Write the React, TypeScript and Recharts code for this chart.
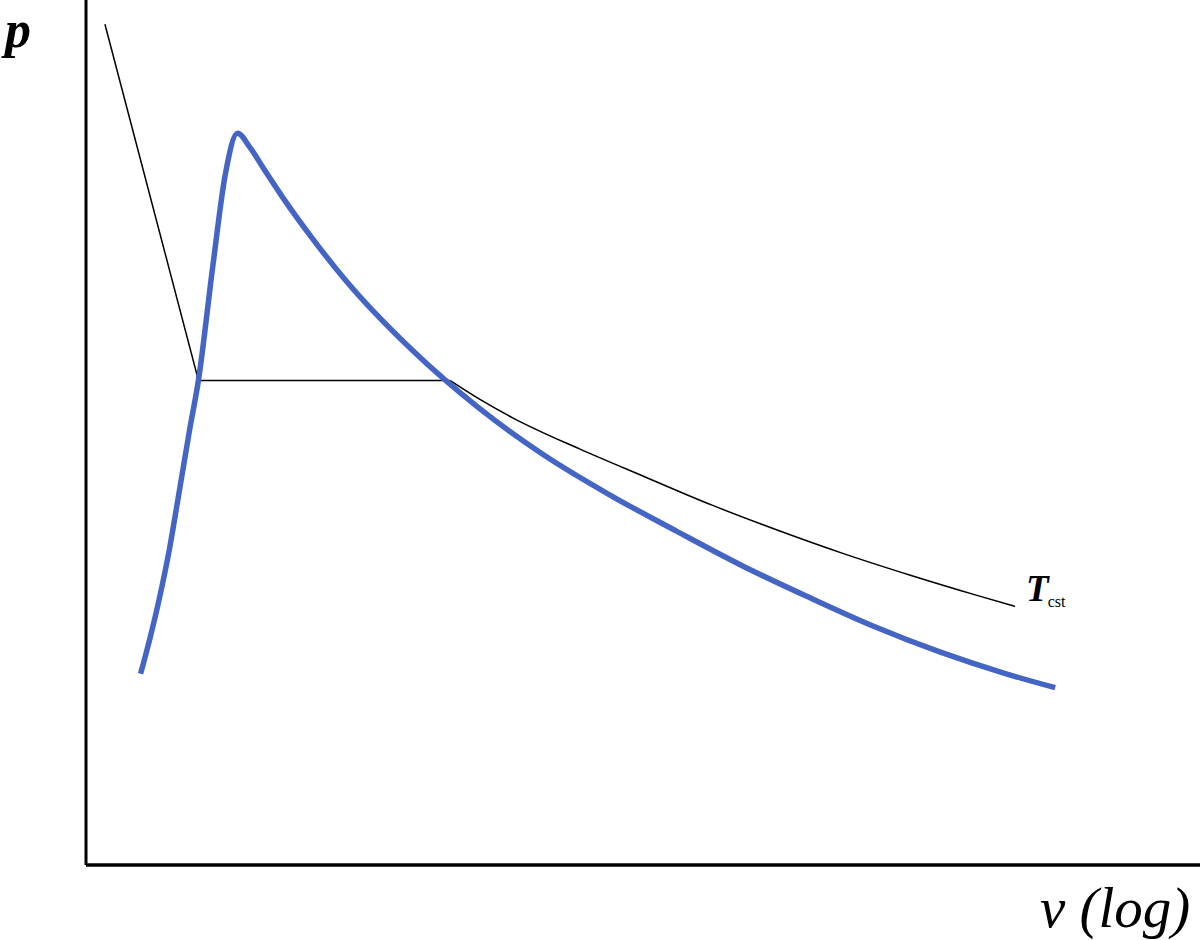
import { LineChart, Line, XAxis, YAxis, ReferenceDot } from "recharts";

// arbitrary units: x = log v on 0..10, y = p on 0..10
const saturationX = [0.49, 0.57, 0.66, 0.75, 0.84, 0.93, 1.01, 1.14, 1.25, 1.36, 1.47, 1.59, 1.77, 2.04, 2.33, 2.93, 3.52, 4.11, 4.7, 5.3, 5.89, 6.48, 7.07, 7.67, 8.26, 8.7];
const saturationP = [2.21, 2.6, 3.09, 3.66, 4.34, 5.03, 5.61, 6.94, 7.98, 8.46, 8.3, 8.06, 7.71, 7.23, 6.76, 5.95, 5.29, 4.74, 4.28, 3.86, 3.46, 3.1, 2.76, 2.46, 2.21, 2.05];

// isotherm: compressed liquid, two-phase plateau, vapour
const liquidX = [0.17, 1.01];
const liquidP = [9.72, 5.6];
const plateauX = [1.01, 3.27];
const plateauP = [5.6, 5.6];
const vapourX = [3.27, 3.54, 3.83, 4.43, 5.03, 5.62, 6.21, 6.8, 7.4, 7.99, 8.34];
const vapourP = [5.6, 5.38, 5.17, 4.81, 4.48, 4.16, 3.87, 3.6, 3.35, 3.12, 2.99];

const toPoints = (xs: number[], ps: number[]) => xs.map((x, i) => ({ x, p: ps[i] }));

const saturation = toPoints(saturationX, saturationP);
const liquid = toPoints(liquidX, liquidP);
const plateau = toPoints(plateauX, plateauP);
const vapour = toPoints(vapourX, vapourP);
const isothermEnd = vapour[vapour.length - 1];

const serif = "'Liberation Serif', 'DejaVu Serif', serif";

export default function App() {
  return (
    <div style={{ position: "absolute", left: 0, top: 0, background: "#fff" }}>
      <LineChart width={1200} height={940} margin={{ top: 0, right: 0, left: 0, bottom: 0 }}>
        <XAxis
          type="number"
          dataKey="x"
          domain={[0, 10]}
          height={75}
          tick={false}
          tickLine={false}
          axisLine={{ stroke: "#000", strokeWidth: 3.5 }}
          label={{
            content: () => (
              <text x={1040} y={927} fontFamily={serif} fontStyle="italic" fontSize={57} fill="#000">
                v (log)
              </text>
            ),
          }}
        />
        <YAxis
          type="number"
          dataKey="p"
          domain={[0, 10]}
          width={86}
          tick={false}
          tickLine={false}
          axisLine={{ stroke: "#000", strokeWidth: 3 }}
          label={{
            content: () => (
              <text x={5} y={47} fontFamily={serif} fontStyle="italic" fontWeight="bold" fontSize={52} fill="#000">
                p
              </text>
            ),
          }}
        />
        <Line data={liquid} dataKey="p" type="linear" stroke="#000" strokeWidth={1.5} dot={false} isAnimationActive={false} />
        <Line data={plateau} dataKey="p" type="linear" stroke="#000" strokeWidth={1.5} dot={false} isAnimationActive={false} />
        <Line data={vapour} dataKey="p" type="monotone" stroke="#000" strokeWidth={1.5} dot={false} isAnimationActive={false} />
        <Line
          data={saturation}
          dataKey="p"
          type="monotone"
          stroke="#4565c5"
          strokeWidth={5.5}
          dot={false}
          isAnimationActive={false}
        />
        <ReferenceDot
          x={isothermEnd.x}
          y={isothermEnd.p}
          r={0}
          stroke="none"
          fill="none"
          label={{
            content: (props: any) => {
              const vb = props.viewBox || {};
              return (
                <text x={(vb.x ?? 0) + 11} y={(vb.y ?? 0) - 5} fontFamily={serif} fill="#000">
                  <tspan fontStyle="italic" fontWeight="bold" fontSize={37}>T</tspan>
                  <tspan fontSize={16} dx={-1} dy={6}>cst</tspan>
                </text>
              );
            },
          }}
        />
      </LineChart>
    </div>
  );
}
